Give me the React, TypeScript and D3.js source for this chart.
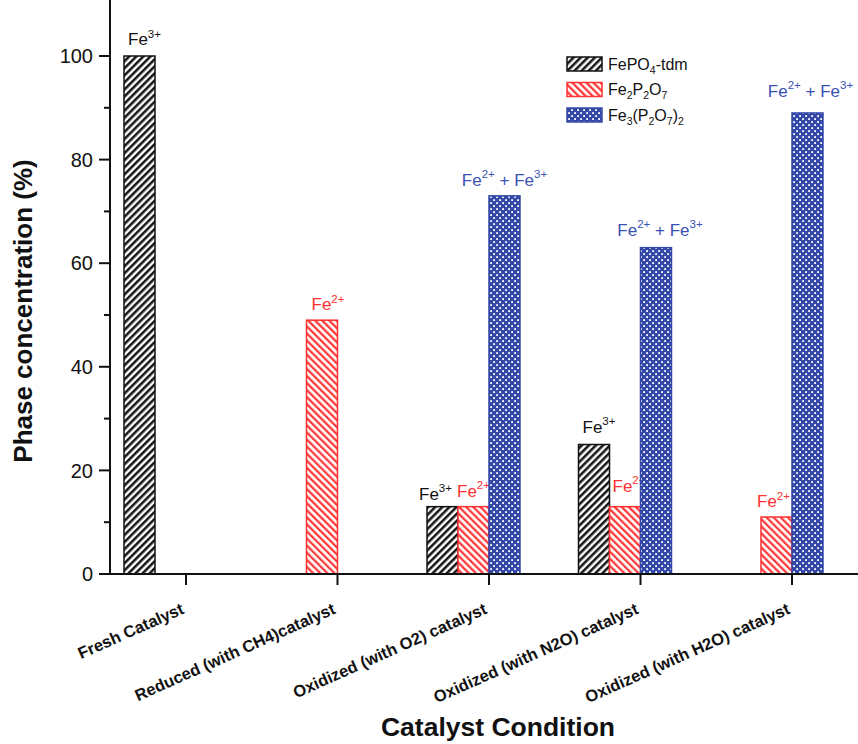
import React from "react";
import * as d3 from "d3";

const categories = [
  "Fresh Catalyst",
  "Reduced (with CH4)catalyst",
  "Oxidized (with O2) catalyst",
  "Oxidized (with N2O) catalyst",
  "Oxidized (with H2O) catalyst",
];
const seriesKeys = ["FePO4", "Fe2P2O7", "Fe3P2O72"];
const fePO4 = [100, 0, 13, 25, 0];
const fe2P2O7 = [0, 49, 13, 13, 11];
const fe3P2O72 = [0, 0, 73, 63, 89];
const yTicks = [0, 20, 40, 60, 80, 100];
const yMinorTicks = [10, 30, 50, 70, 90];

// annotations: category index, series index, superscript parts
const annCat = [0, 1, 2, 2, 2, 3, 3, 3, 4, 4];
const annSeries = [0, 1, 0, 1, 2, 0, 1, 2, 1, 2];
const annKind = ["3", "2", "3", "2", "mix", "3", "2", "mix", "2", "mix"];
// layout offsets (px) for annotations
const annDx = [5, 6, -7, 0, 0, 5, 4, 4, -3, 3];
const annDy = [11, 10, 7, 10, 10, 12, 15, 12, 10, 16];

const W = 858;
const H = 744;
const axisX = 110;
const axisY = 574;
const font = "Arial, 'Liberation Sans', sans-serif";
const BLACK = "#111";
const RED = "#ff3030";
const BLUE = "#3448a8";
const BLUE_TXT = "#3a52b4";

export default function App() {
  const values = [fePO4, fe2P2O7, fe3P2O72];
  const y = d3.scaleLinear().domain([0, 110]).range([axisY, axisY - 110 * 5.18]);
  const xOuter = d3.scaleBand<string>().domain(categories).range([94.75, 852.25]).padding(0);
  const barW = xOuter.step() * 0.2046;
  const xInner = d3.scaleBand<string>().domain(seriesKeys).range([-1.5 * barW, 1.5 * barW]).padding(0);
  const center = (i: number) => (xOuter(categories[i]) as number) + xOuter.bandwidth() / 2;
  const fills = ["url(#hBlack)", "url(#hRed)", "url(#hBlue)"];
  const strokes = [BLACK, RED, BLUE];
  const txtColors = [BLACK, RED, BLUE_TXT];

  const sup = (s: string) => (
    <tspan fontSize={11.5} dy={-7.5}>{s}</tspan>
  );

  return (
    <svg width={W} height={H} style={{ position: "absolute", left: 0, top: 0, background: "#fff" }} fontFamily={font}>
      <defs>
        <pattern id="hBlack" patternUnits="userSpaceOnUse" width={5} height={5} patternTransform="rotate(45)">
          <rect width={5} height={5} fill="#fff" />
          <line x1={1.3} y1={0} x2={1.3} y2={5} stroke={BLACK} strokeWidth={2.5} />
        </pattern>
        <pattern id="hRed" patternUnits="userSpaceOnUse" width={5} height={5} patternTransform="rotate(-45)">
          <rect width={5} height={5} fill="#fff" />
          <line x1={1.2} y1={0} x2={1.2} y2={5} stroke={RED} strokeWidth={2.2} />
        </pattern>
        <pattern id="hBlue" patternUnits="userSpaceOnUse" width={6} height={6}>
          <rect width={6} height={6} fill={BLUE} />
          <rect x={1.2} y={1.2} width={1.8} height={1.8} fill="#fff" />
          <rect x={4.2} y={4.2} width={1.8} height={1.8} fill="#fff" />
        </pattern>
      </defs>

      {/* annotations (drawn under bars) */}
      {annCat.map((c, k) => {
        const s = annSeries[k];
        const v = values[s][c];
        const cx = center(c) + (xInner(seriesKeys[s]) as number) + barW / 2 + annDx[k];
        const by = y(v) - annDy[k];
        const kind = annKind[k];
        return (
          <text key={"a" + k} x={cx} y={by} textAnchor="middle" fontSize={17} fill={txtColors[s]}>
            {kind === "mix" ? (
              <>
                <tspan>Fe</tspan>
                {sup("2+")}
                <tspan dy={7.5}> + Fe</tspan>
                {sup("3+")}
              </>
            ) : (
              <>
                <tspan>Fe</tspan>
                {sup(kind + "+")}
              </>
            )}
          </text>
        );
      })}

      {/* bars */}
      {values.map((arr, s) =>
        arr.map((v, c) =>
          v > 0 ? (
            <rect
              key={`b${s}-${c}`}
              x={center(c) + (xInner(seriesKeys[s]) as number)}
              y={y(v)}
              width={barW}
              height={axisY - y(v)}
              fill={fills[s]}
              stroke={strokes[s]}
              strokeWidth={1.5}
            />
          ) : null
        )
      )}

      {/* y axis */}
      <line x1={axisX} y1={0} x2={axisX} y2={axisY} stroke={BLACK} strokeWidth={2} />
      {yTicks.map((t) => (
        <g key={"yt" + t}>
          <line x1={axisX - 11} x2={axisX} y1={y(t)} y2={y(t)} stroke={BLACK} strokeWidth={2} />
          <text x={axisX - 17} y={y(t)} dy="0.36em" textAnchor="end" fontSize={20} fill={BLACK}>
            {t}
          </text>
        </g>
      ))}
      {yMinorTicks.map((t) => (
        <line key={"ym" + t} x1={axisX - 6} x2={axisX} y1={y(t)} y2={y(t)} stroke={BLACK} strokeWidth={2} />
      ))}

      {/* x axis */}
      <line x1={axisX} y1={axisY} x2={W} y2={axisY} stroke={BLACK} strokeWidth={2} />
      {categories.map((cat, i) => {
        const tx = center(i) + barW / 2;
        return (
          <g key={"xt" + i}>
            <line x1={tx} x2={tx} y1={axisY} y2={axisY + 11} stroke={BLACK} strokeWidth={2} />
            <text
              transform={`translate(${tx - 1},${axisY + 39}) rotate(-24)`}
              textAnchor="end"
              fontSize={16.5}
              fontWeight="bold"
              fill={BLACK}
            >
              {cat}
            </text>
          </g>
        );
      })}

      {/* axis titles */}
      <text x={498} y={736} textAnchor="middle" fontSize={26.5} fontWeight="bold" fill={BLACK}>
        Catalyst Condition
      </text>
      <text
        transform={`translate(32,${311}) rotate(-90)`}
        textAnchor="middle"
        fontSize={26}
        fontWeight="bold"
        fill={BLACK}
      >
        Phase concentration (%)
      </text>

      {/* legend */}
      {seriesKeys.map((s, i) => {
        const ly = 57 + i * 25.5;
        return (
          <g key={"lg" + s}>
            <rect x={567} y={ly} width={35} height={14} fill={fills[i]} stroke={strokes[i]} strokeWidth={1.5} />
            <text x={608} y={ly + 12.5} fontSize={16} fill={BLACK}>
              {i === 0 && (
                <>
                  <tspan>FePO</tspan>
                  <tspan fontSize={10.5} dy={4}>4</tspan>
                  <tspan dy={-4}>-tdm</tspan>
                </>
              )}
              {i === 1 && (
                <>
                  <tspan>Fe</tspan>
                  <tspan fontSize={10.5} dy={4}>2</tspan>
                  <tspan dy={-4}>P</tspan>
                  <tspan fontSize={10.5} dy={4}>2</tspan>
                  <tspan dy={-4}>O</tspan>
                  <tspan fontSize={10.5} dy={4}>7</tspan>
                </>
              )}
              {i === 2 && (
                <>
                  <tspan>Fe</tspan>
                  <tspan fontSize={10.5} dy={4}>3</tspan>
                  <tspan dy={-4}>(P</tspan>
                  <tspan fontSize={10.5} dy={4}>2</tspan>
                  <tspan dy={-4}>O</tspan>
                  <tspan fontSize={10.5} dy={4}>7</tspan>
                  <tspan dy={-4}>)</tspan>
                  <tspan fontSize={10.5} dy={4}>2</tspan>
                </>
              )}
            </text>
          </g>
        );
      })}
    </svg>
  );
}
